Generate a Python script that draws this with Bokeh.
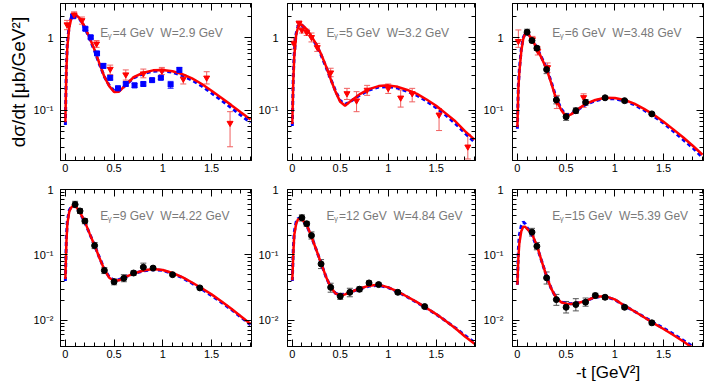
from bokeh.plotting import figure
from bokeh.models import (ColumnDataSource, Whisker, TeeHead, LogAxis, LinearAxis, Label, Title,
                          CustomJSTickFormatter, FixedTicker, SingleIntervalTicker, Range1d)
from bokeh.layouts import column, row
from bokeh.embed import file_html
from bokeh.resources import INLINE

FONT = "Liberation Sans"

# ---------------- data ----------------
t_grid = [0, 0.01, 0.02, 0.04, 0.06, 0.08, 0.1, 0.15, 0.2, 0.25, 0.3, 0.35, 0.4, 0.45, 0.5,
          0.55, 0.6, 0.7, 0.8, 0.9, 1.0, 1.1, 1.2, 1.3, 1.4, 1.5, 1.6, 1.7, 1.8, 1.9]

energies = ["4", "5", "6", "9", "12", "15"]
w_values = ["2.9", "3.2", "3.48", "4.22", "4.84", "5.39"]

# model curves (red solid, blue dashed)
p1_red = [0.068, 0.35, 0.75, 1.4, 1.85, 2.1, 2.15, 1.85, 1.42, 1.0, 0.68, 0.44, 0.29, 0.215, 0.178,
          0.18, 0.21, 0.285, 0.33, 0.355, 0.36, 0.345, 0.315, 0.275, 0.23, 0.185, 0.148, 0.118, 0.093, 0.074]
p1_blue = [0.062, 0.4, 0.85, 1.5, 1.9, 2.1, 2.1, 1.8, 1.38, 0.97, 0.66, 0.43, 0.29, 0.22, 0.185,
           0.185, 0.21, 0.28, 0.32, 0.345, 0.35, 0.335, 0.3, 0.26, 0.215, 0.172, 0.137, 0.108, 0.085, 0.067]
p2_red = [0.064, 0.25, 0.55, 1.1, 1.42, 1.55, 1.52, 1.32, 1.05, 0.82, 0.6, 0.41, 0.27, 0.18, 0.13,
          0.115, 0.13, 0.165, 0.195, 0.215, 0.22, 0.21, 0.19, 0.168, 0.14, 0.115, 0.09, 0.07, 0.051, 0.039]
p2_blue = [0.06, 0.28, 0.6, 1.15, 1.45, 1.55, 1.5, 1.3, 1.03, 0.8, 0.58, 0.4, 0.27, 0.185, 0.135,
           0.12, 0.13, 0.16, 0.19, 0.208, 0.212, 0.202, 0.182, 0.16, 0.133, 0.108, 0.085, 0.065, 0.048, 0.036]
p3_red = [0.058, 0.2, 0.33, 0.65, 0.97, 1.15, 1.2, 0.95, 0.72, 0.52, 0.37, 0.23, 0.14, 0.1, 0.081,
          0.087, 0.098, 0.122, 0.138, 0.148, 0.147, 0.138, 0.123, 0.104, 0.086, 0.069, 0.054, 0.042, 0.032, 0.024]
p3_blue = [0.055, 0.22, 0.36, 0.7, 1.0, 1.15, 1.18, 0.95, 0.73, 0.53, 0.38, 0.24, 0.145, 0.104, 0.085,
           0.088, 0.097, 0.119, 0.135, 0.144, 0.143, 0.134, 0.119, 0.1, 0.082, 0.066, 0.051, 0.039, 0.03, 0.022]
p4_red = [0.043, 0.15, 0.3, 0.46, 0.53, 0.57, 0.57, 0.45, 0.32, 0.21, 0.14, 0.09, 0.06, 0.045, 0.04,
          0.041, 0.045, 0.052, 0.058, 0.061, 0.059, 0.053, 0.046, 0.038, 0.031, 0.025, 0.0196, 0.0152, 0.0116, 0.0088]
p4_blue = [0.04, 0.18, 0.33, 0.48, 0.55, 0.57, 0.56, 0.44, 0.315, 0.21, 0.14, 0.091, 0.061, 0.046, 0.041,
           0.042, 0.045, 0.052, 0.057, 0.06, 0.058, 0.052, 0.045, 0.037, 0.030, 0.024, 0.019, 0.0148, 0.0113, 0.0086]
p5_red = [0.041, 0.1, 0.2, 0.3, 0.35, 0.36, 0.35, 0.29, 0.19, 0.12, 0.075, 0.047, 0.032, 0.026, 0.024,
          0.025, 0.027, 0.0305, 0.034, 0.035, 0.032, 0.0275, 0.023, 0.019, 0.0155, 0.0125, 0.0098, 0.0076, 0.0057, 0.0044]
p5_blue = [0.04, 0.12, 0.22, 0.32, 0.36, 0.36, 0.345, 0.285, 0.19, 0.12, 0.075, 0.047, 0.032, 0.026, 0.0245,
           0.0252, 0.027, 0.0302, 0.0335, 0.0345, 0.0318, 0.0272, 0.0228, 0.0188, 0.0153, 0.0124, 0.0098, 0.0077, 0.0059, 0.0046]
p6_red = [0.035, 0.09, 0.15, 0.23, 0.27, 0.27, 0.25, 0.21, 0.14, 0.08, 0.047, 0.03, 0.022, 0.019, 0.018,
          0.0178, 0.0182, 0.0198, 0.023, 0.0235, 0.021, 0.0168, 0.0138, 0.0112, 0.009, 0.0074, 0.006, 0.0048, 0.0038, 0.003]
p6_blue = [0.035, 0.12, 0.2, 0.28, 0.32, 0.3, 0.26, 0.2, 0.135, 0.08, 0.047, 0.03, 0.022, 0.0192, 0.0182,
           0.018, 0.0183, 0.0198, 0.0228, 0.0232, 0.0208, 0.0167, 0.0138, 0.0113, 0.0092, 0.0076, 0.0062, 0.005, 0.004, 0.0032]

# red triangles (older data)
p1_tri_t = [0.017, 0.09, 0.17, 0.32, 0.46, 0.62, 0.80, 0.99, 1.21, 1.45, 1.69]
p1_tri_y = [1.53, 2.1, 1.75, 0.83, 0.37, 0.31, 0.32, 0.35, 0.27, 0.28, 0.066]
p1_tri_lo = [1.3, 1.9, 1.55, 0.74, 0.31, 0.26, 0.28, 0.31, 0.23, 0.23, 0.031]
p1_tri_hi = [1.75, 2.3, 1.95, 0.92, 0.42, 0.36, 0.37, 0.39, 0.31, 0.34, 0.095]

p2_tri_t = [0.014, 0.07, 0.10, 0.15, 0.20, 0.26, 0.40, 0.57, 0.67, 0.78, 1.0, 1.13, 1.25, 1.53, 1.83]
p2_tri_y = [0.85, 1.6, 1.29, 1.2, 1.02, 0.74, 0.33, 0.17, 0.135, 0.19, 0.20, 0.148, 0.17, 0.086, 0.031]
p2_tri_lo = [0.7, 1.48, 1.17, 1.08, 0.88, 0.65, 0.29, 0.14, 0.095, 0.16, 0.17, 0.11, 0.13, 0.052, 0.021]
p2_tri_hi = [1.0, 1.72, 1.41, 1.32, 1.17, 0.84, 0.38, 0.20, 0.18, 0.22, 0.23, 0.19, 0.20, 0.105, 0.046]

p3_tri_t = [0.01, 0.155, 0.21, 0.31, 0.405, 0.68]
p3_tri_y = [0.9, 0.95, 0.66, 0.39, 0.13, 0.15]
p3_tri_lo = [0.74, 0.85, 0.58, 0.33, 0.105, 0.109]
p3_tri_hi = [1.29, 1.05, 0.75, 0.45, 0.16, 0.168]

# blue squares
p1_sq_t = [0.08, 0.205, 0.26, 0.325, 0.39, 0.46, 0.54, 0.62, 0.71, 0.80, 0.89, 0.98, 1.08, 1.17]
p1_sq_y = [2.0, 1.34, 1.02, 0.61, 0.41, 0.28, 0.20, 0.23, 0.22, 0.23, 0.26, 0.28, 0.226, 0.36]
p1_sq_lo = [1.9, 1.27, 0.97, 0.57, 0.38, 0.26, 0.185, 0.215, 0.205, 0.215, 0.245, 0.265, 0.2, 0.33]
p1_sq_hi = [2.1, 1.41, 1.07, 0.65, 0.44, 0.30, 0.215, 0.245, 0.235, 0.245, 0.275, 0.295, 0.25, 0.39]

# black circles (new data)
p3_c_t = [0.1, 0.15, 0.2, 0.3, 0.4, 0.5, 0.6, 0.7, 0.9, 1.1, 1.38]
p3_c_y = [1.2, 0.92, 0.72, 0.365, 0.138, 0.081, 0.098, 0.128, 0.148, 0.135, 0.0885]
p3_c_lo = [1.1, 0.87, 0.67, 0.32, 0.122, 0.072, 0.09, 0.117, 0.142, 0.13, 0.085]
p3_c_hi = [1.32, 0.97, 0.77, 0.41, 0.155, 0.09, 0.107, 0.14, 0.154, 0.14, 0.092]

p4_c_t = [0.1, 0.15, 0.2, 0.3, 0.4, 0.5, 0.6, 0.7, 0.8, 0.9, 1.1, 1.38]
p4_c_y = [0.59, 0.47, 0.33, 0.139, 0.058, 0.039, 0.044, 0.053, 0.065, 0.063, 0.050, 0.0314]
p4_c_lo = [0.53, 0.43, 0.3, 0.125, 0.052, 0.035, 0.039, 0.049, 0.056, 0.06, 0.048, 0.0298]
p4_c_hi = [0.66, 0.51, 0.36, 0.155, 0.064, 0.043, 0.05, 0.057, 0.075, 0.066, 0.052, 0.033]

p5_c_t = [0.1, 0.15, 0.2, 0.3, 0.4, 0.5, 0.6, 0.7, 0.8, 0.9, 1.1, 1.38]
p5_c_y = [0.37, 0.30, 0.198, 0.073, 0.032, 0.0234, 0.0269, 0.030, 0.0374, 0.0353, 0.0269, 0.0163]
p5_c_lo = [0.33, 0.275, 0.175, 0.062, 0.027, 0.021, 0.023, 0.0275, 0.035, 0.033, 0.0255, 0.0155]
p5_c_hi = [0.41, 0.325, 0.225, 0.085, 0.037, 0.026, 0.031, 0.0325, 0.04, 0.0375, 0.0283, 0.0171]

p6_c_t = [0.15, 0.2, 0.3, 0.4, 0.5, 0.6, 0.7, 0.8, 0.9, 1.1, 1.38]
p6_c_y = [0.223, 0.136, 0.0447, 0.0208, 0.0159, 0.0175, 0.019, 0.024, 0.0226, 0.0159, 0.0092]
p6_c_lo = [0.195, 0.12, 0.036, 0.017, 0.013, 0.014, 0.0165, 0.022, 0.021, 0.0149, 0.0086]
p6_c_hi = [0.255, 0.155, 0.055, 0.025, 0.0195, 0.0215, 0.022, 0.026, 0.0242, 0.017, 0.0098]

# axis ticks
x_range_lim = (-0.05, 1.91)
top_range = (0.02, 3.0)
bottom_range = (0.004, 1.0)
y_major = [0.001, 0.01, 0.1, 1.0, 10.0]
y_minor = [m * d for d in [0.001, 0.01, 0.1, 1.0] for m in range(2, 10)]

panels = [
    dict(red=p1_red, blue=p1_blue, tri=(p1_tri_t, p1_tri_y, p1_tri_lo, p1_tri_hi),
         sq=(p1_sq_t, p1_sq_y, p1_sq_lo, p1_sq_hi), circ=None),
    dict(red=p2_red, blue=p2_blue, tri=(p2_tri_t, p2_tri_y, p2_tri_lo, p2_tri_hi), sq=None, circ=None),
    dict(red=p3_red, blue=p3_blue, tri=(p3_tri_t, p3_tri_y, p3_tri_lo, p3_tri_hi), sq=None,
         circ=(p3_c_t, p3_c_y, p3_c_lo, p3_c_hi)),
    dict(red=p4_red, blue=p4_blue, tri=None, sq=None, circ=(p4_c_t, p4_c_y, p4_c_lo, p4_c_hi)),
    dict(red=p5_red, blue=p5_blue, tri=None, sq=None, circ=(p5_c_t, p5_c_y, p5_c_lo, p5_c_hi)),
    dict(red=p6_red, blue=p6_blue, tri=None, sq=None, circ=(p6_c_t, p6_c_y, p6_c_lo, p6_c_hi)),
]

# ---------------- layout geometry (pixels) ----------------
FRAME_W = [191, 188, 191]
BL = [60, 34, 35]
BR = 2
FRAME_H = 157
BT = [3, 8]
BB = [21, 35]
Y_STANDOFF = [7, 9, 9]

log_fmt = CustomJSTickFormatter(code="""
    if (Math.abs(tick - 1) < 1e-9) return "1";
    const e = Math.round(Math.log10(tick));
    const m = {"-": "\\u207B", "0": "\\u2070", "1": "\\u00B9", "2": "\\u00B2", "3": "\\u00B3"};
    let s = "";
    for (const c of String(e)) s += m[c];
    return "10" + s;
""")
empty_fmt = CustomJSTickFormatter(code="return '';")


def style_axis(ax, labels=True):
    ax.major_tick_in = 7
    ax.major_tick_out = 0
    ax.minor_tick_in = 4
    ax.minor_tick_out = 0
    ax.axis_line_color = "black"
    ax.major_tick_line_color = "black"
    ax.minor_tick_line_color = "black"
    ax.major_label_text_font = FONT
    ax.major_label_text_font_size = "11px"
    ax.major_label_text_color = "black"
    if not labels:
        ax.formatter = empty_fmt
        ax.major_label_text_font_size = "0px"
        ax.major_label_standoff = 0


def add_errors(p, src, color):
    w = Whisker(source=src, base="x", lower="lo", upper="hi", line_color=color, line_width=1,
                upper_head=TeeHead(size=6, line_color=color, line_width=1),
                lower_head=TeeHead(size=6, line_color=color, line_width=1))
    p.add_layout(w)


figs = []
for i, pd_ in enumerate(panels):
    r, c = divmod(i, 3)
    yr = top_range if r == 0 else bottom_range
    p = figure(width=BL[c] + FRAME_W[c] + BR, height=BT[r] + FRAME_H + BB[r],
               x_range=Range1d(*x_range_lim), y_range=Range1d(*yr), y_axis_type="log",
               output_backend="svg", toolbar_location=None,
               min_border_left=BL[c], min_border_right=BR, min_border_top=BT[r],
               min_border_bottom=BB[r])
    p.xgrid.visible = False
    p.ygrid.visible = False
    p.outline_line_color = "black"
    p.background_fill_color = "white"
    p.border_fill_color = "white"

    xa = p.xaxis[0]
    xa.ticker = SingleIntervalTicker(interval=0.5, num_minor_ticks=5)
    style_axis(xa)
    xa.major_label_standoff = 3
    ya = p.yaxis[0]
    ya.ticker = FixedTicker(ticks=y_major, minor_ticks=y_minor)
    ya.formatter = log_fmt
    style_axis(ya)
    ya.major_label_standoff = Y_STANDOFF[c]

    top_ax = LinearAxis(ticker=SingleIntervalTicker(interval=0.5, num_minor_ticks=5))
    style_axis(top_ax, labels=False)
    p.add_layout(top_ax, "above")
    right_ax = LogAxis(ticker=FixedTicker(ticks=y_major, minor_ticks=y_minor))
    style_axis(right_ax, labels=False)
    p.add_layout(right_ax, "right")

    if i == 0:
        ya.axis_label = "dσ/dt [μb/GeV²]"
        ya.axis_label_text_font = FONT
        ya.axis_label_text_font_size = "19px"
        ya.axis_label_text_font_style = "normal"
        ya.axis_label_text_color = "black"
        ya.axis_label_standoff = 2

    # curves
    p.line(t_grid, pd_["blue"], line_color="#0000ff", line_width=3, line_dash="4 3")
    p.line(t_grid, pd_["red"], line_color="#ff0000", line_width=2.5)

    if pd_["sq"] is not None:
        t, y, lo, hi = pd_["sq"]
        src = ColumnDataSource(dict(x=t, y=y, lo=lo, hi=hi))
        add_errors(p, src, "#3333ff")
        p.scatter("x", "y", source=src, marker="square", size=5, color="#0000ff")
    if pd_["tri"] is not None:
        t, y, lo, hi = pd_["tri"]
        src = ColumnDataSource(dict(x=t, y=y, lo=lo, hi=hi))
        add_errors(p, src, "#f06060")
        p.scatter("x", "y", source=src, marker="inverted_triangle", size=6, color="#ff0000")
    if pd_["circ"] is not None:
        t, y, lo, hi = pd_["circ"]
        src = ColumnDataSource(dict(x=t, y=y, lo=lo, hi=hi))
        add_errors(p, src, "#555555")
        p.scatter("x", "y", source=src, marker="circle", size=6, color="black")

    # panel title  E_gamma = ..  W = ..
    ty = 1.16 if r == 0 else 0.40
    tx = 0.357
    p.add_layout(Label(x=tx, y=ty, text="E", text_font=FONT, text_font_size="12px",
                       text_baseline="alphabetic", text_color="#7a7a7a"))
    p.add_layout(Label(x=tx, y=ty, x_offset=7.5, y_offset=-2.5, text="γ", text_font=FONT,
                       text_font_size="8px", text_baseline="alphabetic", text_color="#7a7a7a"))
    p.add_layout(Label(x=tx, y=ty, x_offset=12.5,
                       text="=" + energies[i] + " GeV\u00a0\u00a0W=" + w_values[i] + " GeV",
                       text_font=FONT, text_font_size="12px", text_baseline="alphabetic",
                       text_color="#7a7a7a"))

    if i == 5:
        p.add_layout(Title(text="-t [GeV²]", align="center", standoff=0,
                           text_font=FONT, text_font_size="17px", text_font_style="normal",
                           text_color="black"), "below")
    figs.append(p)

layout = column(row(*figs[:3]), row(*figs[3:]))
open("out.html", "w").write(file_html(layout, INLINE))
